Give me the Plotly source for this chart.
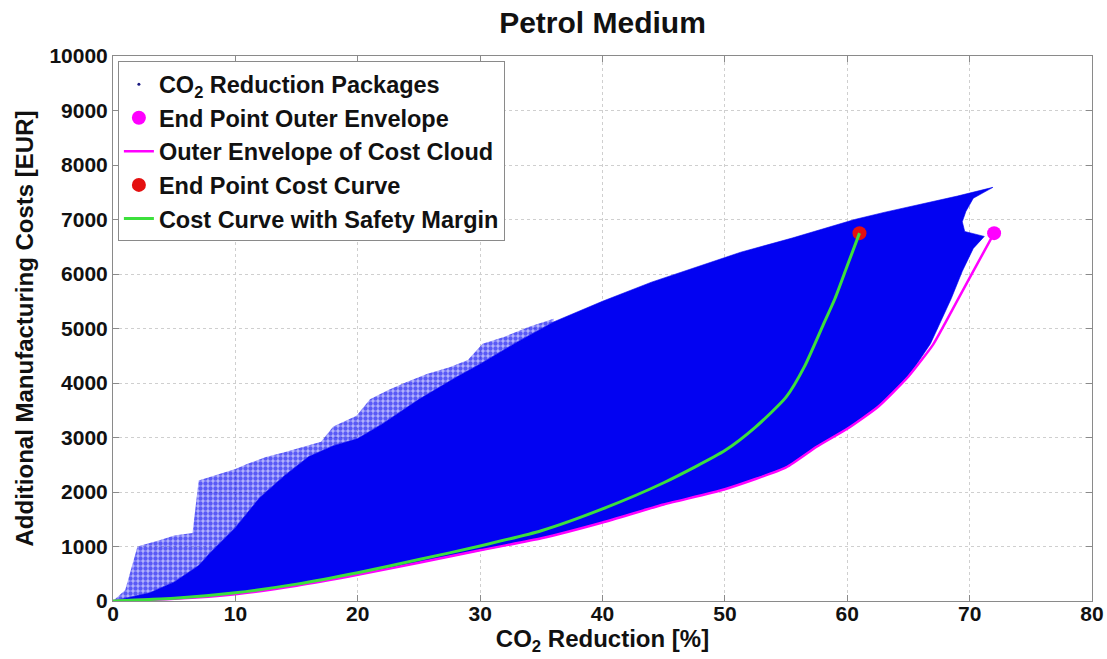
import plotly.graph_objects as go

# ---- data: CO2 reduction [%] vs. additional manufacturing cost [EUR] ----

# outer (lower) envelope of the cost cloud
env_x = [0, 5, 10, 15, 20, 25, 30, 35, 40, 45, 50, 55, 57.5, 60, 62.5, 65, 67, 68, 70, 72]
env_y = [0, 40, 125, 280, 480, 700, 930, 1150, 1440, 1770, 2050, 2450, 2830, 3160, 3560, 4120, 4700, 5100, 5930, 6750]

# cost curve including the safety margin
curve_x = [0, 5, 10, 15, 20, 25, 30, 35, 40, 45, 50, 52.5, 55, 56.5, 58, 59, 60, 61]
curve_y = [0, 50, 150, 310, 520, 760, 1010, 1290, 1690, 2170, 2760, 3190, 3740, 4300, 5050, 5550, 6150, 6750]

# end points of both curves
end_env_x, end_env_y = [72], [6750]
end_curve_x, end_curve_y = [61], [6750]

# upper border of the dense part of the package cloud
core_top_x = [0, 3, 5, 7, 8, 10, 12, 14, 16, 18, 20, 22, 25, 28, 30, 33, 36,
              40, 44, 48, 51.3, 55.5, 58.5, 60.6, 63, 66, 69, 71.9]
core_top_y = [0, 150, 350, 650, 900, 1350, 1900, 2300, 2650, 2850, 2980, 3250, 3700, 4100, 4350, 4750, 5120,
              5500, 5850, 6150, 6400, 6660, 6860, 7000, 7130, 7280, 7430, 7590]

# upper border of the sparse packages above the dense part
sparse_top_x = [0, 1, 2, 3, 4, 5, 6.5, 7, 8, 9, 10, 11, 12.5, 14, 15.5, 17, 18, 19.9,
                21, 22.5, 24, 25.7, 27.5, 29, 30.2, 32, 34, 36]
sparse_top_y = [0, 200, 1000, 1060, 1130, 1200, 1250, 2210, 2280, 2350, 2420, 2520, 2640, 2730, 2820, 2920, 3200, 3400,
                3700, 3870, 4020, 4170, 4290, 4420, 4720, 4850, 5030, 5180]

# right-hand edge of the cloud, from the top tip downwards
edge_x = [70.3, 69.7, 69.4, 69.6, 71.2, 70.3, 69.4, 68.5, 67.6, 66.8]
edge_y = [7390, 7150, 6960, 6780, 6690, 6470, 6050, 5550, 5100, 4720]

# axis ticks
x_ticks = [0, 10, 20, 30, 40, 50, 60, 70, 80]
y_ticks = [0, 1000, 2000, 3000, 4000, 5000, 6000, 7000, 8000, 9000, 10000]

BLUE = "#0202F2"
MAGENTA = "#FF00FF"
RED = "#E41010"
GREEN = "#3CE03C"
FONT = "Liberation Sans, Arial, Helvetica, sans-serif"

# closed outline of the dense cloud: top border, right edge, envelope back to origin
low_back = [(x, y) for x, y in zip(env_x, env_y) if x < 66.8]
low_back.reverse()
core_x = core_top_x + edge_x + [p[0] for p in low_back]
core_y = core_top_y + edge_y + [p[1] for p in low_back]

# closed outline of the sparse band above the dense part
core_left = [(x, y) for x, y in zip(core_top_x, core_top_y) if x <= 36]
core_left.reverse()
sparse_x = sparse_top_x + [p[0] for p in core_left]
sparse_y = sparse_top_y + [p[1] for p in core_left]

fig = go.Figure()

fig.add_trace(go.Scatter(
    x=sparse_x, y=sparse_y, mode="lines", fill="toself",
    line=dict(width=0), fillcolor="rgba(2,2,242,0.35)",
    fillpattern=dict(shape=".", fgcolor=BLUE, bgcolor="rgba(2,2,242,0.30)", size=5, solidity=0.6),
    showlegend=False, hoverinfo="skip"))

fig.add_trace(go.Scatter(
    x=core_x, y=core_y, mode="lines", fill="toself",
    line=dict(width=0.6, color=BLUE), fillcolor=BLUE,
    showlegend=False, hoverinfo="skip"))

# legend entry for the package cloud
fig.add_trace(go.Scatter(
    x=[None], y=[None], mode="markers", name="CO<sub>2</sub> Reduction Packages",
    marker=dict(size=3, color="#1a1a80")))

fig.add_trace(go.Scatter(
    x=end_env_x, y=end_env_y, mode="markers", name="End Point Outer Envelope",
    marker=dict(size=14, color=MAGENTA)))

fig.add_trace(go.Scatter(
    x=env_x, y=env_y, mode="lines", name="Outer Envelope of Cost Cloud",
    line=dict(color=MAGENTA, width=2.5, shape="spline", smoothing=0.5)))

fig.add_trace(go.Scatter(
    x=end_curve_x, y=end_curve_y, mode="markers", name="End Point Cost Curve",
    marker=dict(size=14, color=RED)))

fig.add_trace(go.Scatter(
    x=curve_x, y=curve_y, mode="lines", name="Cost Curve with Safety Margin",
    line=dict(color=GREEN, width=3, shape="spline", smoothing=0.6)))

axis_common = dict(
    showline=True, linecolor="#8a8a8a", linewidth=1, mirror="allticks",
    ticks="inside", ticklen=6, tickcolor="#8a8a8a",
    showgrid=True, gridcolor="#cfcfcf", griddash="dot", gridwidth=1,
    zeroline=False, automargin=False,
    tickfont=dict(family=FONT, size=21, color="#111111", weight="bold"),
)

fig.update_xaxes(
    range=[0, 80], tickvals=x_ticks, ticktext=[str(v) for v in x_ticks],
    ticklabelstandoff=-6,
    title=dict(text="CO<sub>2</sub> Reduction [%]", standoff=4,
               font=dict(family=FONT, size=24, color="#111111", weight="bold")),
    **axis_common)

fig.update_yaxes(
    range=[0, 10000], tickvals=y_ticks, ticktext=[str(v) for v in y_ticks],
    title=dict(text="Additional Manufacturing Costs [EUR]", standoff=8,
               font=dict(family=FONT, size=24, color="#111111", weight="bold")),
    **axis_common)

fig.update_layout(
    width=1107, height=659,
    margin=dict(l=113, r=15, t=56, b=58),
    paper_bgcolor="white", plot_bgcolor="white",
    title=dict(text="Petrol Medium", x=0.5, xref="paper", xanchor="center",
               y=1 - 22 / 659, yref="container", yanchor="middle",
               font=dict(family=FONT, size=30, color="#111111", weight="bold")),
    legend=dict(x=0.005, y=0.99, xanchor="left", yanchor="top",
                bgcolor="white", bordercolor="#8a8a8a", borderwidth=1,
                itemwidth=30, tracegroupgap=0,
                font=dict(family=FONT, size=23.5, color="#111111", weight="bold")),
    showlegend=True,
)

fig.write_html("out.html")
